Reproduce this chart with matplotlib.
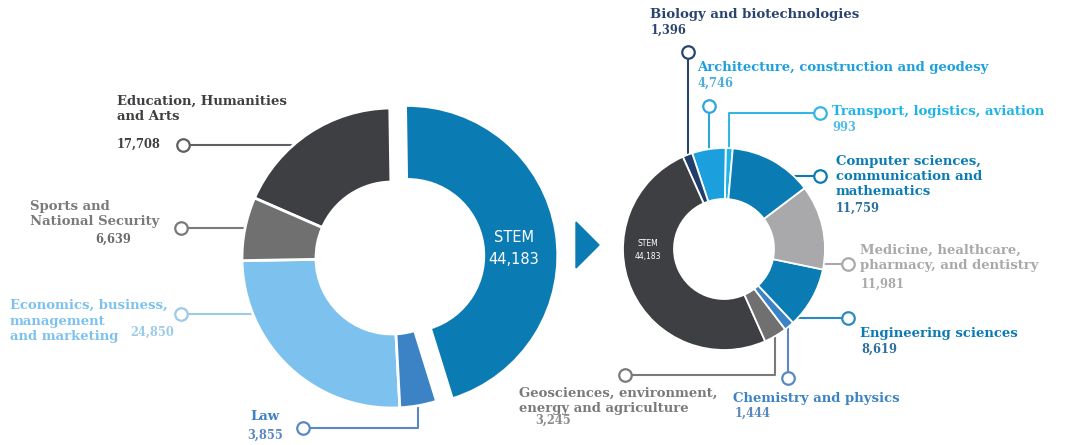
import matplotlib.pyplot as plt
from matplotlib.patches import Polygon
import numpy as np

# left donut: all fields of study
left_names = ['Economics, business,\nmanagement\nand marketing', 'Law', 'STEM',
              'Education, Humanities\nand Arts', 'Sports and\nNational Security']
left_values = [24850, 3855, 44183, 17708, 6639]
left_labels = ['24,850', '3,855', '44,183', '17,708', '6,639']
left_colors = ['#7dc2ee', '#3c83c6', '#0b7bb3', '#3e3f42', '#707070']

# right donut: STEM split into sub-fields
right_names = ['Transport, logistics, aviation', 'Architecture, construction and geodesy',
               'Biology and biotechnologies', 'STEM',
               'Geosciences, environment,\nenergy and agriculture', 'Chemistry and physics',
               'Engineering sciences', 'Medicine, healthcare,\npharmacy, and dentistry',
               'Computer sciences,\ncommunication and\nmathematics']
right_values = [993, 4746, 1396, 44183, 3245, 1444, 8619, 11981, 11759]
right_labels = ['993', '4,746', '1,396', '44,183', '3,245', '1,444', '8,619', '11,981', '11,759']
right_colors = ['#1db4ea', '#1ba0dd', '#213f6c', '#3e3f42', '#707070',
                '#3c83c6', '#0b7bb3', '#a9a9ab', '#0b7bb3']

W, H = 1065, 445
SERIF = 'DejaVu Serif'

fig = plt.figure(figsize=(W / 100, H / 100), dpi=100)
ax = fig.add_axes([0, 0, 1, 1])

lw, _ = ax.pie(left_values, colors=left_colors, startangle=181, radius=150,
               center=(392, H - 258), explode=[0, 0, 16, 0, 0], frame=True,
               wedgeprops=dict(width=74, edgecolor='white', linewidth=2))
rw, _ = ax.pie(right_values, colors=right_colors, startangle=85, radius=101,
               center=(724, H - 249), frame=True,
               wedgeprops=dict(width=51, edgecolor='white', linewidth=1.3))

ax.set_xlim(0, W)
ax.set_ylim(0, H)
ax.set_aspect('equal')
ax.axis('off')


def rim_y(w, y, side):
    cx, cy = w.center
    return cx + side * np.sqrt(w.r ** 2 - (H - y - cy) ** 2)


def rim_mid(w):
    a = np.deg2rad((w.theta1 + w.theta2) / 2)
    cx, cy = w.center
    return cx + (w.r - 2) * np.cos(a), H - (cy + (w.r - 2) * np.sin(a))


def callout(xs, ys, color):
    ax.plot(xs, [H - y for y in ys], color=color, lw=1.5, zorder=0.5, solid_capstyle='butt')
    ax.plot(xs[-1], H - ys[-1], 'o', ms=9, mfc='white', mec=color, mew=1.6, zorder=4)


def label(x, y, s, color, size=9.5, ha='left'):
    ax.text(x, H - y, s, color=color, fontsize=size, fontweight='bold', family=SERIF,
            va='top', ha=ha)


def number(x, y, s, color, ha='left'):
    ax.text(x, H - y, s, color=color, fontsize=8.3, fontweight='bold', family=SERIF,
            va='top', ha=ha)


# left callouts
econ, law, stem, edu, sport = lw
callout([rim_y(edu, 145, -1) + 3, 183], [145, 145], '#5e5f62')
label(117, 95, left_names[3], '#3e3f42')
number(117, 138, left_labels[3], '#3e3f42')

callout([rim_y(sport, 228, -1) + 3, 181], [228, 228], '#7a7a7a')
label(30, 200, left_names[4], '#7a7a7a')
number(131, 233, left_labels[4], '#6a6a6a', ha='right')

callout([rim_y(econ, 314, -1) + 3, 181], [314, 314], '#9ccbe9')
econ_lines = left_names[0].split('\n')
label(10, 299, econ_lines[0], '#7dc2ee')
label(10, 315, '\n'.join(econ_lines[1:]), '#7dc2ee')
number(130, 326, left_labels[0], '#9ccbe9')

lx, ly = rim_mid(law)
callout([lx, lx, 303], [ly, 428, 428], '#5a88c2')
label(265, 410, left_names[1], '#3c83c6', ha='center')
number(265, 429, left_labels[1], '#5a88c2', ha='center')

ax.text(514, H - 238, 'STEM', color='white', fontsize=10.5, ha='center', va='center')
ax.text(514, H - 260, left_labels[2], color='white', fontsize=10.5, ha='center', va='center')

# arrow between the donuts
ax.add_patch(Polygon([(576, H - 222), (576, H - 268), (599, H - 245)], color='#0b7bb3'))

# right callouts
trans, arch, bio, rstem, geo, chem, eng, med, comp = rw
bx, by = rim_mid(bio)
callout([bx, bx], [by, 52], '#2a4470')
label(650, 8, right_names[2], '#2a4470')
number(651, 24, right_labels[2], '#2a4470')

ax_, ay_ = rim_mid(arch)
callout([ax_, ax_], [ay_, 106], '#2ea6dc')
label(697, 61, right_names[1], '#1ba0dd')
number(697, 77, right_labels[1], '#4aaedc')

tx, ty = rim_mid(trans)
callout([tx, tx, 820], [ty, 113, 113], '#36b5e5')
label(832, 105, right_names[0], '#1db4ea')
number(832, 121, right_labels[0], '#4fbde6')

callout([rim_y(comp, 176, 1) - 3, 820], [176, 176], '#0b7bb3')
label(836, 155, right_names[8], '#0b7bb3')
number(836, 202, right_labels[8], '#2a6f9e')

callout([rim_y(med, 264, 1) - 3, 848], [264, 264], '#a9a9ab')
label(860, 244, right_names[7], '#a9a9ab')
number(861, 278, right_labels[7], '#a9a9ab')

callout([rim_y(eng, 318, 1) - 3, 848], [318, 318], '#2a8bc0')
label(860, 327, right_names[6], '#0b7bb3')
number(861, 343, right_labels[6], '#2a6f9e')

gx, gy = rim_mid(geo)
callout([gx, gx, 625], [gy, 375, 375], '#7a7a7a')
label(519, 387, right_names[4], '#7a7a7a')
number(535, 414, right_labels[4], '#8a8a8a')

cx_, cy_ = rim_mid(chem)
callout([cx_, cx_], [cy_, 378], '#5a88c2')
label(733, 392, right_names[5], '#3c83c6')
number(735, 407, right_labels[5], '#5a88c2')

ax.text(648, H - 243, 'STEM', color='white', fontsize=5.5, ha='center', va='center')
ax.text(648, H - 256, right_labels[3], color='white', fontsize=5.5, ha='center', va='center')

fig.savefig('out.png', dpi=100)
